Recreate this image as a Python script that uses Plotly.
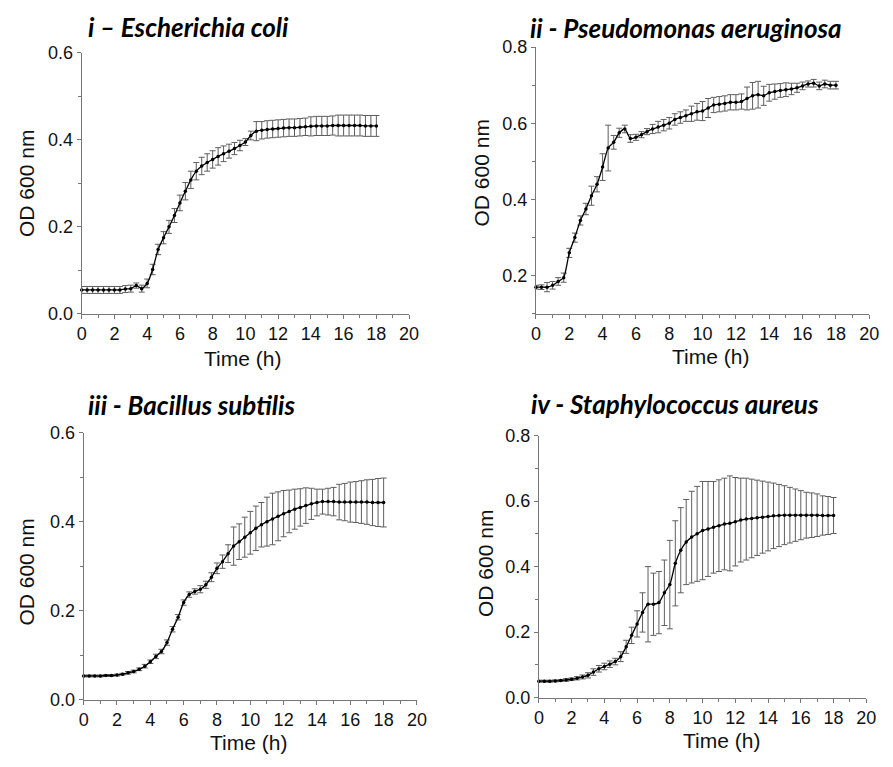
import plotly.graph_objects as go

time_h = [round(i / 3, 4) for i in range(55)]

ecoli_od = [0.055, 0.055, 0.055, 0.055, 0.055, 0.055, 0.055, 0.055, 0.057, 0.058,
            0.065, 0.058, 0.070, 0.102, 0.148, 0.175, 0.200, 0.226, 0.255, 0.282,
            0.308, 0.328, 0.340, 0.348, 0.355, 0.362, 0.368, 0.374, 0.380, 0.387,
            0.395, 0.410, 0.420, 0.422, 0.424, 0.425, 0.426, 0.427, 0.428, 0.428,
            0.429, 0.430, 0.431, 0.432, 0.432, 0.432, 0.433, 0.433, 0.433, 0.433,
            0.433, 0.433, 0.432, 0.432, 0.432]
ecoli_err = [0.008, 0.008, 0.008, 0.008, 0.008, 0.008, 0.008, 0.008, 0.008, 0.008,
             0.006, 0.008, 0.010, 0.012, 0.012, 0.014, 0.015, 0.016, 0.018, 0.020,
             0.020, 0.020, 0.020, 0.020, 0.020, 0.020, 0.018, 0.016, 0.014, 0.012,
             0.008, 0.010, 0.022, 0.020, 0.020, 0.020, 0.020, 0.020, 0.020, 0.020,
             0.020, 0.020, 0.022, 0.022, 0.022, 0.022, 0.022, 0.024, 0.024, 0.024,
             0.024, 0.024, 0.024, 0.024, 0.024]

paer_od = [0.170, 0.170, 0.170, 0.175, 0.185, 0.195, 0.260, 0.300, 0.345, 0.375,
           0.410, 0.440, 0.485, 0.535, 0.550, 0.575, 0.585, 0.560, 0.563, 0.570,
           0.578, 0.585, 0.590, 0.595, 0.600, 0.610, 0.615, 0.620, 0.625, 0.630,
           0.632, 0.640, 0.648, 0.650, 0.652, 0.655, 0.655, 0.657, 0.665, 0.672,
           0.675, 0.672, 0.680, 0.683, 0.686, 0.688, 0.690, 0.693, 0.698, 0.703,
           0.705, 0.698, 0.703, 0.700, 0.700]
paer_err = [0.005, 0.006, 0.012, 0.010, 0.010, 0.012, 0.012, 0.012, 0.012, 0.015,
            0.025, 0.020, 0.035, 0.060, 0.018, 0.012, 0.010, 0.010, 0.008, 0.008,
            0.008, 0.012, 0.015, 0.015, 0.015, 0.015, 0.015, 0.015, 0.020, 0.022,
            0.025, 0.025, 0.020, 0.020, 0.020, 0.020, 0.020, 0.020, 0.030, 0.035,
            0.035, 0.025, 0.022, 0.020, 0.018, 0.018, 0.015, 0.012, 0.010, 0.008,
            0.010, 0.010, 0.010, 0.010, 0.010]

bsub_od = [0.053, 0.053, 0.053, 0.053, 0.054, 0.054, 0.055, 0.057, 0.060, 0.063,
           0.068, 0.075, 0.085, 0.097, 0.108, 0.128, 0.158, 0.185, 0.218, 0.236,
           0.243, 0.248, 0.258, 0.275, 0.295, 0.310, 0.328, 0.345, 0.355, 0.365,
           0.375, 0.385, 0.393, 0.400, 0.406, 0.412, 0.418, 0.423, 0.428, 0.432,
           0.436, 0.440, 0.443, 0.445, 0.445, 0.445, 0.444, 0.444, 0.444, 0.444,
           0.444, 0.444, 0.443, 0.443, 0.443]
bsub_err = [0.002, 0.002, 0.002, 0.002, 0.002, 0.002, 0.002, 0.002, 0.003, 0.003,
            0.003, 0.004, 0.004, 0.005, 0.005, 0.006, 0.006, 0.006, 0.006, 0.006,
            0.006, 0.008, 0.008, 0.010, 0.012, 0.015, 0.020, 0.043, 0.040, 0.045,
            0.048, 0.050, 0.050, 0.055, 0.058, 0.055, 0.052, 0.048, 0.045, 0.042,
            0.040, 0.035, 0.030, 0.028, 0.030, 0.032, 0.040, 0.042, 0.045, 0.046,
            0.048, 0.050, 0.052, 0.054, 0.055]

saur_od = [0.050, 0.050, 0.050, 0.051, 0.052, 0.054, 0.056, 0.059, 0.063, 0.068,
           0.078, 0.088, 0.095, 0.102, 0.110, 0.125, 0.155, 0.190, 0.225, 0.260,
           0.285, 0.285, 0.290, 0.320, 0.345, 0.410, 0.450, 0.475, 0.490, 0.500,
           0.510, 0.515, 0.520, 0.525, 0.530, 0.532, 0.537, 0.542, 0.545, 0.547,
           0.549, 0.551, 0.553, 0.555, 0.556, 0.557, 0.557, 0.557, 0.557, 0.557,
           0.557, 0.557, 0.556, 0.556, 0.556]
saur_err = [0.003, 0.003, 0.003, 0.003, 0.003, 0.004, 0.004, 0.005, 0.006, 0.008,
            0.010, 0.010, 0.010, 0.010, 0.010, 0.015, 0.020, 0.025, 0.040, 0.060,
            0.115, 0.095, 0.095, 0.100, 0.135, 0.130, 0.130, 0.130, 0.140, 0.145,
            0.150, 0.145, 0.140, 0.140, 0.140, 0.145, 0.135, 0.128, 0.125, 0.120,
            0.115, 0.110, 0.105, 0.100, 0.095, 0.090, 0.085, 0.080, 0.075, 0.070,
            0.068, 0.065, 0.060, 0.058, 0.055]

titles = ["i – Escherichia coli", "ii - Pseudomonas aeruginosa",
          "iii - Bacillus subtilis", "iv - Staphylococcus aureus"]
series = [(ecoli_od, ecoli_err), (paer_od, paer_err), (bsub_od, bsub_err), (saur_od, saur_err)]

W, H = 893, 767
# plot areas in pixels: (x0, x1, ytop, ybottom)
boxes = [(78, 411, 44, 312), (540, 879, 38, 312), (80, 419, 434, 708), (543, 876, 437, 706)]
yranges = [[0, 0.6], [0.1, 0.8], [0, 0.6], [0, 0.8]]
yticks = [[0, 0.2, 0.4, 0.6], [0.2, 0.4, 0.6, 0.8], [0, 0.2, 0.4, 0.6], [0, 0.2, 0.4, 0.6, 0.8]]
title_pos = [(82, 17), (532, 18), (82, 406), (533, 405)]
ytitle_pos = [(22, 178), (485, 167), (22, 577), (488, 568)]
xtitle_pos = [(242, 358), (718, 356), (248, 752), (729, 750)]

FONT = "Liberation Sans"
fig = go.Figure()
tick_font = dict(family=FONT, size=18, color="#111")
axis_col = "#777"
annotations = []
for k, ((od, err), box) in enumerate(zip(series, boxes)):
    sfx = "" if k == 0 else str(k + 1)
    fig.add_trace(go.Scatter(
        x=time_h, y=od, mode="lines+markers",
        line=dict(color="black", width=1.3, shape="spline", smoothing=0.6),
        marker=dict(color="black", size=3.5),
        error_y=dict(type="data", array=err, visible=True, color="#5e5e5e",
                     thickness=1, width=3),
        xaxis="x" + sfx, yaxis="y" + sfx, showlegend=False, cliponaxis=False))
    x0, x1, yt, yb = box
    xa = dict(domain=[x0 / W, x1 / W], range=[0, 20], tickmode="array",
              tickvals=list(range(0, 21, 2)), ticks="outside", ticklen=4, tickwidth=1,
              tickcolor=axis_col, showline=True, linecolor=axis_col, linewidth=1,
              showgrid=False, zeroline=False, tickfont=tick_font,
              minor=dict(dtick=1, ticks="outside", ticklen=3, tickcolor=axis_col, showgrid=False),
              anchor="y" + sfx)
    ya = dict(domain=[1 - yb / H, 1 - yt / H], range=yranges[k], tickmode="array",
              tickvals=yticks[k], tickformat=".1f", ticks="outside", ticklen=4, tickwidth=1,
              tickcolor=axis_col, showline=True, linecolor=axis_col, linewidth=1,
              showgrid=False, zeroline=False, tickfont=tick_font,
              minor=dict(dtick=0.1, tick0=0, ticks="outside", ticklen=3, tickcolor=axis_col, showgrid=False),
              anchor="x" + sfx)
    fig.update_layout(**{"xaxis" + sfx: xa, "yaxis" + sfx: ya})
    tx, ty = title_pos[k]
    annotations.append(dict(text="<b><i>" + titles[k] + "</i></b>", x=tx / W, y=1 - ty / H,
                            xref="paper", yref="paper", xanchor="left", yanchor="middle",
                            showarrow=False, font=dict(family="Lato", size=26, color="black")))
    yx, yy = ytitle_pos[k]
    annotations.append(dict(text="OD 600 nm", x=yx / W, y=1 - yy / H, xref="paper", yref="paper",
                            xanchor="center", yanchor="middle", textangle=-90, showarrow=False,
                            font=dict(family=FONT, size=21, color="#111")))
    xx, xy = xtitle_pos[k]
    annotations.append(dict(text="Time (h)", x=xx / W, y=1 - xy / H, xref="paper", yref="paper",
                            xanchor="center", yanchor="middle", showarrow=False,
                            font=dict(family=FONT, size=21, color="#111")))

fig.update_layout(width=W, height=H, margin=dict(l=0, r=0, t=0, b=0),
                  font=dict(family=FONT),
                  paper_bgcolor="white", plot_bgcolor="white", annotations=annotations)
fig.write_html("out.html")
